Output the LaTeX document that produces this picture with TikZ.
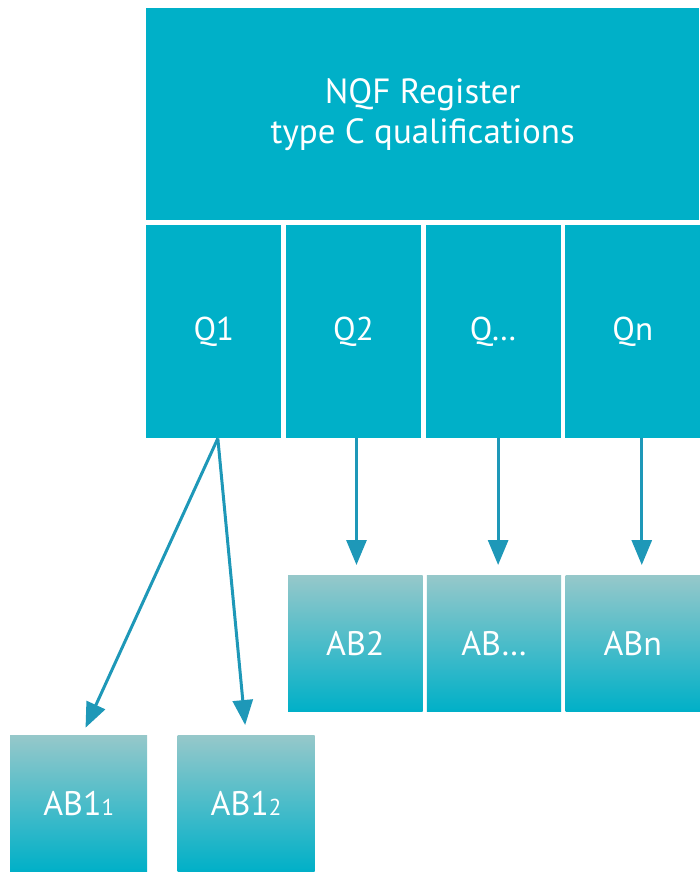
\documentclass[tikz,border=0pt]{standalone}
\usepackage{fontspec}
\setmainfont{PT Sans}
\usetikzlibrary{positioning, arrows.meta}
\definecolor{regblue}{RGB}{0,176,200}
\definecolor{ablight}{RGB}{150,200,202}
\definecolor{arrowblue}{RGB}{30,152,184}

\begin{document}
\begin{tikzpicture}[x=1pt, y=1pt, node distance=4pt,
    every node/.style={rectangle, inner sep=0pt, text=white, align=center},
    qbox/.style={fill=regblue, minimum width=135.25pt, minimum height=213pt, font=\fontsize{33}{38}\selectfont},
    abbox/.style={top color=ablight, bottom color=regblue, minimum width=134.3pt, minimum height=136pt, font=\fontsize{34}{38}\selectfont},
    arr/.style={-{Triangle[length=25pt, width=20pt]}, line width=3pt, draw=arrowblue, shorten >=10pt}]
    \useasboundingbox (0,0) rectangle (699,-872);

    \node[fill=regblue, minimum width=553pt, minimum height=212pt, anchor=north west, font=\fontsize{35}{40}\selectfont] (reg) at (146,-8) {NQF Register\\type C qualifications};
    \node[qbox, anchor=north west] (q1) at (146,-225) {Q1};
    \node[qbox, right=of q1] (q2) {Q2};
    \node[qbox, right=of q2] (q3) {Q…};
    \node[qbox, right=of q3] (qn) {Qn};

    \node[abbox, anchor=north west] (ab2) at (288,-575) {AB2};
    \node[abbox, right=of ab2] (ab3) {AB…};
    \node[abbox, right=of ab3] (abn) {ABn};
    \node[abbox, minimum width=137pt, anchor=north west] (ab11) at (10,-735) {AB1{\fontsize{23}{23}\selectfont 1}};
    \node[abbox, minimum width=137pt, right=30pt of ab11] (ab12) {AB1{\fontsize{23}{23}\selectfont 2}};

    % Q1 splits in two
    \draw[arr, shorten >=8pt] ([xshift=4pt]q1.south) -- ([xshift=3.5pt]ab11.north);
    \draw[arr] ([xshift=4pt]q1.south) -- (ab12.north);

    % straight down to the award bodies
    \draw[arr] ([xshift=3pt]q2.south) -- ([xshift=3pt]q2.south |- ab2.north);
    \draw[arr] ([xshift=5pt]q3.south) -- ([xshift=5pt]q3.south |- ab3.north);
    \draw[arr] ([xshift=9pt]qn.south) -- ([xshift=9pt]qn.south |- abn.north);
\end{tikzpicture}
\end{document}
